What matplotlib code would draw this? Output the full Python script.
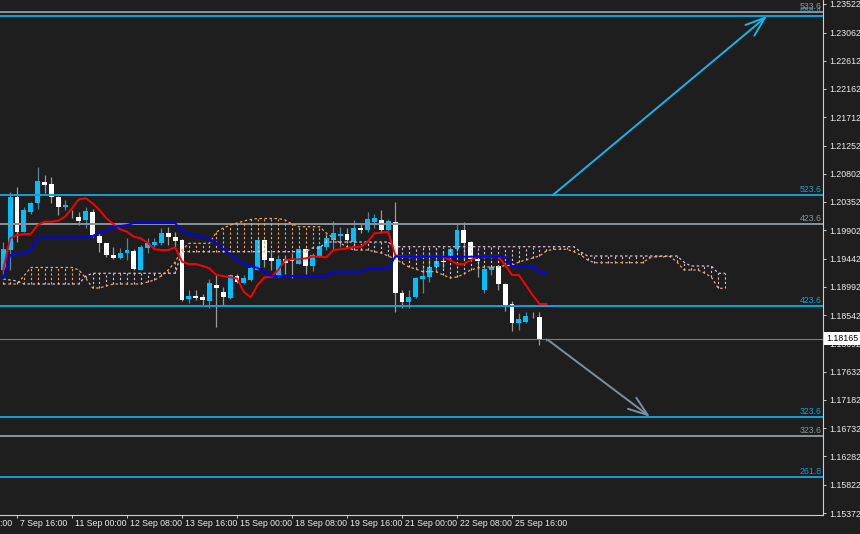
import matplotlib
matplotlib.use('Agg')
import matplotlib.pyplot as plt
import matplotlib.transforms as mtransforms

plt.rcParams['font.family'] = ['Liberation Sans', 'DejaVu Sans']

# EURUSD H4 candles, bar index 0..79
opens = [1.19263, 1.19583, 1.20432, 1.19876, 1.20196, 1.20340, 1.20677, 1.20640, 1.20427, 1.20267,
         1.20116, 1.20116, 1.20063, 1.20196, 1.19807, 1.19690, 1.19498, 1.19450, 1.19540, 1.19572,
         1.19263, 1.19610, 1.19663, 1.19690, 1.19850, 1.19796, 1.19743, 1.18793, 1.18846, 1.18826,
         1.18771, 1.19023, 1.18915, 1.18810, 1.19167, 1.19050, 1.19103, 1.19263, 1.19743, 1.19450,
         1.19183, 1.19434, 1.19415, 1.19364, 1.19594, 1.19327, 1.19487, 1.19636, 1.19743, 1.19807,
         1.19839, 1.19716, 1.19930, 1.19903, 1.20036, 1.20063, 1.19903, 1.20036, 1.18890, 1.18755,
         1.18826, 1.19114, 1.19155, 1.19306, 1.19407, 1.19476, 1.19594, 1.19903, 1.19716, 1.19434,
         1.18943, 1.19263, 1.19327, 1.19039, 1.18719, 1.18419, 1.18435, 1.18518, 1.18515, 1.18142]
highs = [1.19711, 1.20517, 1.20592, 1.20276, 1.20356, 1.20917, 1.20784, 1.20757, 1.20448, 1.20384,
         1.20224, 1.20196, 1.20276, 1.20235, 1.19876, 1.19700, 1.19636, 1.19610, 1.19770, 1.19594,
         1.19663, 1.19770, 1.19770, 1.19930, 1.19956, 1.19876, 1.19759, 1.18943, 1.18943, 1.18878,
         1.19114, 1.19183, 1.18995, 1.19199, 1.19199, 1.19183, 1.19343, 1.19775, 1.19754, 1.19556,
         1.19503, 1.19503, 1.19535, 1.19610, 1.19610, 1.19530, 1.19663, 1.19850, 1.20052, 1.19956,
         1.19930, 1.20063, 1.19999, 1.20196, 1.20159, 1.20224, 1.20079, 1.20356, 1.18943, 1.18943,
         1.19155, 1.19343, 1.19540, 1.19556, 1.19556, 1.19636, 1.20020, 1.20036, 1.19735, 1.19450,
         1.19343, 1.19343, 1.19343, 1.19047, 1.18771, 1.18569, 1.18595, 1.18595, 1.18595, 1.18174]
lows = [1.19135, 1.19263, 1.19716, 1.19871, 1.20159, 1.20235, 1.20491, 1.20340, 1.20143, 1.20224,
        1.20095, 1.19983, 1.19930, 1.19796, 1.19556, 1.19476, 1.19434, 1.19439, 1.19423, 1.19263,
        1.19255, 1.19530, 1.19636, 1.19663, 1.19663, 1.19636, 1.18774, 1.18730, 1.18782, 1.18686,
        1.18650, 1.18355, 1.18702, 1.18798, 1.19055, 1.19039, 1.19091, 1.19255, 1.19316, 1.19263,
        1.19155, 1.19199, 1.19135, 1.19353, 1.19199, 1.19252, 1.19466, 1.19583, 1.19583, 1.19636,
        1.19700, 1.19636, 1.19850, 1.19876, 1.19930, 1.19850, 1.19876, 1.18595, 1.18650, 1.18650,
        1.18810, 1.18890, 1.19075, 1.19263, 1.19290, 1.19423, 1.19556, 1.19423, 1.19423, 1.19155,
        1.18899, 1.19183, 1.18943, 1.18611, 1.18290, 1.18302, 1.18409, 1.18489, 1.18062, 1.18126]
closes = [1.19599, 1.20427, 1.19876, 1.20224, 1.20340, 1.20693, 1.20624, 1.20427, 1.20267, 1.20304,
          1.20107, 1.20052, 1.20212, 1.19823, 1.19700, 1.19503, 1.19450, 1.19540, 1.19583, 1.19274,
          1.19636, 1.19700, 1.19716, 1.19850, 1.19786, 1.19732, 1.18782, 1.18846, 1.18810, 1.18782,
          1.19050, 1.18975, 1.18826, 1.19183, 1.19075, 1.19130, 1.19290, 1.19743, 1.19423, 1.19412,
          1.19434, 1.19380, 1.19407, 1.19594, 1.19327, 1.19503, 1.19647, 1.19770, 1.19850, 1.19839,
          1.19743, 1.19930, 1.19903, 1.20075, 1.20090, 1.19903, 1.20052, 1.18890, 1.18755, 1.18826,
          1.19130, 1.19167, 1.19316, 1.19412, 1.19396, 1.19594, 1.19903, 1.19700, 1.19434, 1.19407,
          1.19274, 1.19316, 1.19039, 1.18702, 1.18419, 1.18473, 1.18526, 1.18510, 1.18142, 1.18165]

# Ichimoku
tenkan = [1.19263, 1.19770, 1.19823, 1.19839, 1.19839, 1.19983, 1.20036, 1.20036, 1.20052, 1.20116,
          1.20251, 1.20395, 1.20411, 1.20331, 1.20224, 1.20090, 1.19999, 1.19914, 1.19876, 1.19796,
          1.19770, 1.19700, 1.19594, 1.19583, 1.19583, 1.19626, 1.19396, 1.19359, 1.19359, 1.19327,
          1.19290, 1.19183, 1.19167, 1.19146, 1.19130, 1.18911, 1.18826, 1.19023, 1.19146, 1.19151,
          1.19263, 1.19423, 1.19434, 1.19434, 1.19450, 1.19476, 1.19476, 1.19466, 1.19583, 1.19594,
          1.19610, 1.19636, 1.19636, 1.19716, 1.19850, 1.19860, 1.19876, 1.19503, 1.19476, 1.19476,
          1.19476, 1.19476, 1.19476, 1.19476, 1.19476, 1.19423, 1.19359, 1.19359, 1.19423, 1.19476,
          1.19476, 1.19476, 1.19476, 1.19343, 1.19183, 1.19183, 1.19023, 1.18862, 1.18719, 1.18719]
kijun = [1.19130, 1.19503, 1.19519, 1.19530, 1.19583, 1.19770, 1.19786, 1.19786, 1.19786, 1.19786,
         1.19786, 1.19786, 1.19786, 1.19807, 1.19855, 1.19903, 1.19951, 1.19967, 1.19983, 1.20015,
         1.20015, 1.20015, 1.20015, 1.20015, 1.20015, 1.20015, 1.19887, 1.19839, 1.19807, 1.19791,
         1.19759, 1.19695, 1.19599, 1.19519, 1.19423, 1.19359, 1.19327, 1.19295, 1.19231, 1.19167,
         1.19167, 1.19167, 1.19167, 1.19167, 1.19167, 1.19167, 1.19167, 1.19167, 1.19236, 1.19236,
         1.19236, 1.19236, 1.19236, 1.19279, 1.19279, 1.19279, 1.19279, 1.19476, 1.19476, 1.19476,
         1.19476, 1.19476, 1.19476, 1.19476, 1.19476, 1.19476, 1.19476, 1.19476, 1.19476, 1.19476,
         1.19476, 1.19476, 1.19476, 1.19476, 1.19327, 1.19327, 1.19327, 1.19327, 1.19231, 1.19231]
span_a = [1.19039, 1.19039, 1.19039, 1.19167, 1.19303, 1.19303, 1.19303, 1.19303, 1.19303, 1.19303,
          1.19303, 1.19263, 1.19135, 1.18975, 1.18975, 1.19007, 1.19039, 1.19039, 1.19039, 1.19039,
          1.19039, 1.19071, 1.19103, 1.19167, 1.19263, 1.19391, 1.19583, 1.19690, 1.19690, 1.19690,
          1.19690, 1.19871, 1.19935, 1.19983, 1.20015, 1.20047, 1.20072, 1.20087, 1.20087, 1.20087,
          1.20087, 1.20063, 1.19999, 1.19956, 1.19956, 1.19956, 1.19956, 1.19855, 1.19775, 1.19695,
          1.19631, 1.19583, 1.19583, 1.19583, 1.19556, 1.19535, 1.19487, 1.19439, 1.19375, 1.19311,
          1.19279, 1.19236, 1.19236, 1.19236, 1.19183, 1.19135, 1.19151, 1.19199, 1.19263, 1.19295,
          1.19311, 1.19311, 1.19311, 1.19335, 1.19335, 1.19391, 1.19423, 1.19455, 1.19487, 1.19567,
          1.19594, 1.19594, 1.19594, 1.19556, 1.19503, 1.19423, 1.19380, 1.19380, 1.19380, 1.19380,
          1.19380, 1.19380, 1.19380, 1.19380, 1.19455, 1.19479, 1.19479, 1.19479, 1.19391, 1.19263,
          1.19263, 1.19263, 1.19215, 1.19151, 1.18970, 1.18970]
span_b = [1.19119, 1.19103, 1.19087, 1.19039, 1.19039, 1.19039, 1.19039, 1.19039, 1.19039, 1.19039,
          1.19039, 1.19039, 1.19167, 1.19210, 1.19210, 1.19210, 1.19210, 1.19210, 1.19210, 1.19210,
          1.19210, 1.19210, 1.19210, 1.19210, 1.19210, 1.19210, 1.19556, 1.19556, 1.19556, 1.19556,
          1.19556, 1.19556, 1.19556, 1.19556, 1.19556, 1.19556, 1.19556, 1.19556, 1.19556, 1.19556,
          1.19556, 1.19556, 1.19556, 1.19556, 1.19556, 1.19615, 1.19615, 1.19711, 1.19711, 1.19711,
          1.19711, 1.19711, 1.19711, 1.19711, 1.19711, 1.19711, 1.19711, 1.19636, 1.19636, 1.19636,
          1.19636, 1.19636, 1.19636, 1.19636, 1.19636, 1.19636, 1.19636, 1.19636, 1.19636, 1.19636,
          1.19636, 1.19636, 1.19636, 1.19636, 1.19636, 1.19636, 1.19636, 1.19636, 1.19636, 1.19636,
          1.19636, 1.19636, 1.19636, 1.19636, 1.19551, 1.19487, 1.19487, 1.19487, 1.19487, 1.19487,
          1.19487, 1.19487, 1.19487, 1.19487, 1.19487, 1.19487, 1.19487, 1.19487, 1.19487, 1.19391,
          1.19327, 1.19327, 1.19327, 1.19327, 1.19210, 1.19210]

time_bars = [-6, 2, 10, 18, 26, 34, 42, 50, 58, 66, 74]
time_labels = ['6 Sep 08:00', '7 Sep 16:00', '11 Sep 00:00', '12 Sep 08:00', '13 Sep 16:00',
               '15 Sep 00:00', '18 Sep 08:00', '19 Sep 16:00', '21 Sep 00:00', '22 Sep 08:00',
               '25 Sep 16:00']
price_ticks = [1.23522, 1.23062, 1.22612, 1.22162, 1.21712, 1.21252, 1.20802, 1.20352, 1.19902,
               1.19442, 1.18992, 1.18542, 1.18092, 1.17632, 1.17182, 1.16732, 1.16282, 1.15822,
               1.15372]

# fibo expansion levels
cyan_levels = [1.23330, 1.20464, 1.18680, 1.16914, 1.15953]
cyan_labels = ['688.4', '523.6', '423.6', '323.6', '261.8']
gray_levels = [1.23386, 1.19999, 1.16610]
gray_labels = ['533.6', '423.6', '323.6']
current_price = 1.18165

# trend arrows (bar index, price)
arrow_up = [(79.96, 1.20464), (111.1, 1.23330)]
arrow_down = [(79.24, 1.18142), (94.07, 1.16914)]

bg = '#1e1e1e'
bull = '#00bfff'
bear = '#ffffff'
cyan = '#12a0d8'
gray = '#8a939b'
txt = '#ececec'
fs = 6.3

fig = plt.figure(figsize=(8.6, 5.34), dpi=100)
fig.patch.set_facecolor(bg)
ax = fig.add_axes([0, 19 / 534, 823 / 860, 515 / 534])
ax.set_facecolor(bg)
ax.set_xlim(-0.473, 119.24)
ax.set_ylim(1.15340, 1.23586)

# cloud: dotted histogram between the spans + the span lines
xs = list(range(len(span_a)))
lo = [min(a, b) for a, b in zip(span_a, span_b)]
hi = [max(a, b) for a, b in zip(span_a, span_b)]
cols = ['#f4a460' if a >= b else '#d8bfd8' for a, b in zip(span_a, span_b)]
ax.vlines(xs, lo, hi, colors=cols, linestyles=(0, (2, 2)), lw=0.8, zorder=4)
ax.plot(xs, span_a, color='#f4a460', ls=(0, (2, 2)), lw=0.9, zorder=4)
ax.plot(xs, span_b, color='#d8bfd8', ls=(0, (2, 2)), lw=0.9, zorder=4)

# candles
for i in range(len(opens)):
    o, h, l, c = opens[i], highs[i], lows[i], closes[i]
    up = c >= o
    ax.vlines(i, l, h, color='#5d8299' if up else '#9a9a9a', lw=0.9, zorder=2)
    body = max(abs(c - o), 0.00005)
    ax.bar(i, body, bottom=min(o, c), width=0.7, color=bull if up else bear,
           linewidth=0, zorder=3)

# levels
for p, lab in zip(cyan_levels, cyan_labels):
    ax.axhline(p, color=cyan, lw=1.4, zorder=3.5)
    ax.annotate(lab, xy=(1, p), xycoords=('axes fraction', 'data'), xytext=(-1, 0.8),
                textcoords='offset points', ha='right', va='bottom', color=cyan, fontsize=fs)
for p, lab in zip(gray_levels, gray_labels):
    ax.axhline(p, color=gray, lw=1.4, zorder=3.5)
    ax.annotate(lab, xy=(1, p), xycoords=('axes fraction', 'data'), xytext=(-1, 0.8),
                textcoords='offset points', ha='right', va='bottom', color=gray, fontsize=fs)
ax.axhline(current_price, color='#7c7c7c', lw=0.8, zorder=3.5)

# tenkan / kijun
ax.plot(range(len(tenkan)), tenkan, color='#ff0000', lw=1.4, zorder=5)
ax.plot(range(len(kijun)), kijun, color='#0000ff', lw=1.4, zorder=5)

# arrows
ax.annotate('', xy=arrow_up[1], xytext=arrow_up[0],
            arrowprops=dict(arrowstyle='->,head_length=1.4,head_width=0.5', color='#18b4ea',
                            lw=1.4, shrinkA=0, shrinkB=0), zorder=6)
ax.annotate('', xy=arrow_down[1], xytext=arrow_down[0],
            arrowprops=dict(arrowstyle='->,head_length=1.4,head_width=0.5', color='#7d8fa0',
                            lw=1.4, shrinkA=0, shrinkB=0), zorder=6)

# axes styling
for s in ['left', 'top']:
    ax.spines[s].set_visible(False)
for s in ['right', 'bottom']:
    ax.spines[s].set_color('#d0d0d0')
    ax.spines[s].set_linewidth(0.8)
ax.yaxis.tick_right()
ax.set_yticks(price_ticks)
ax.set_yticklabels(['%.5f' % p for p in price_ticks])
ax.tick_params(axis='y', colors='#d0d0d0', labelcolor=txt, length=2.5, width=0.7, pad=2,
               labelsize=fs)
ax.set_xticks([b for b in time_bars if b >= 0])
ax.set_xticklabels([])
ax.tick_params(axis='x', colors='#d0d0d0', length=2.5, width=0.7)
for b, lab in zip(time_bars, time_labels):
    ax.annotate(lab, xy=(b, 0), xycoords=('data', 'axes fraction'), xytext=(2.2, -3),
                textcoords='offset points', ha='left', va='top', color=txt, fontsize=fs,
                annotation_clip=False)

# current price tag
tr = mtransforms.blended_transform_factory(ax.transAxes, ax.transData)
ax.text(1.004, current_price, '%.5f' % current_price, transform=tr, ha='left', va='center',
        color='black', fontsize=fs, zorder=10, clip_on=False,
        bbox=dict(boxstyle='square,pad=0.25', fc='white', ec='none'))

fig.savefig('out.png', dpi=100, facecolor=bg)
